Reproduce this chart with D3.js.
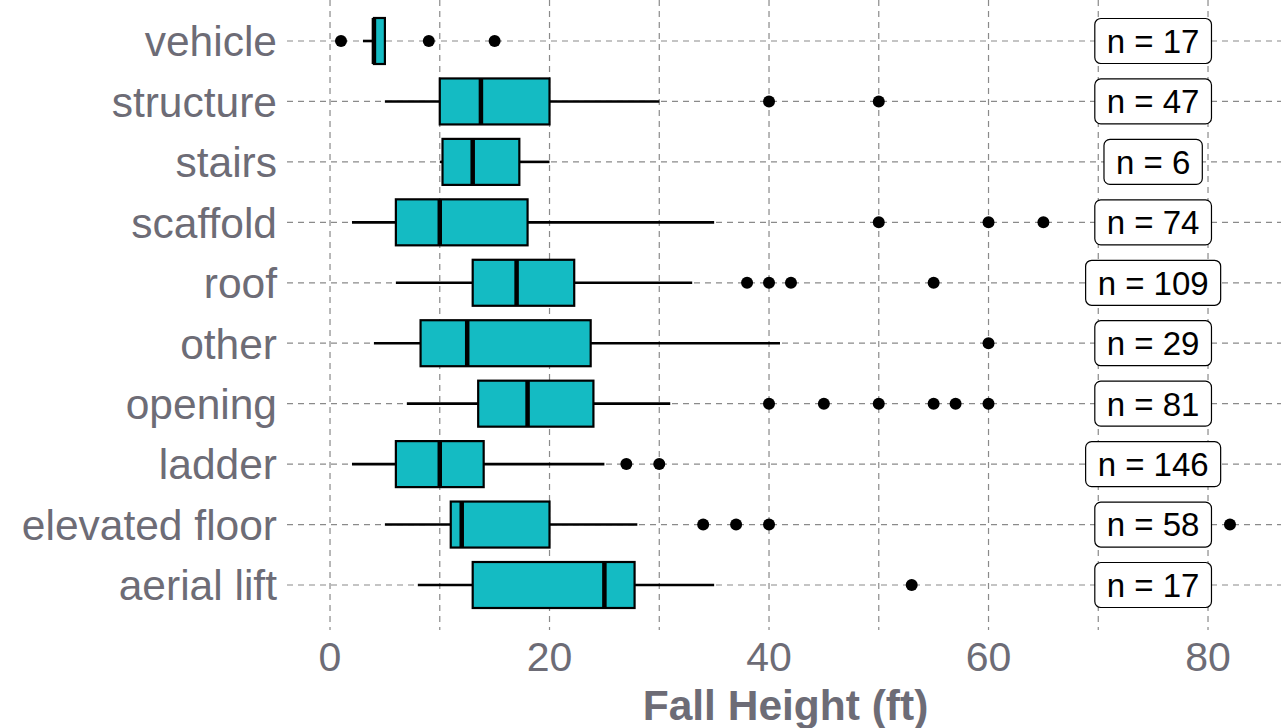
<!DOCTYPE html>
<html><head><meta charset="utf-8">
<script src="https://cdn.jsdelivr.net/npm/d3@7"></script>
<style>html,body{margin:0;padding:0;background:#fff;}svg{display:block;}</style>
</head><body>
<svg id="chart" width="1281" height="728"></svg>
<script>
// categories top to bottom
const categories = ["vehicle","structure","stairs","scaffold","roof","other","opening","ladder","elevated floor","aerial lift"];
// five-number summaries (whisker low, Q1, median, Q3, whisker high), ft
const whiskerLow = [3, 5, 10, 2, 6, 4, 7, 2, 5, 8];
const q1         = [4, 10, 10.25, 6, 13, 8.25, 13.5, 6, 11, 13];
const medians    = [4, 13.75, 13, 10, 17, 12.5, 18, 10, 12, 25];
const q3         = [5, 20, 17.25, 18, 22.25, 23.75, 24, 14, 20, 27.75];
const whiskerHigh= [5, 30, 20, 35, 33, 41, 31, 25, 28, 35];
const outliers   = [[1, 9, 15],[40, 50],[],[50, 60, 65],[38, 40, 42, 55],[60],[40, 45, 50, 55, 57, 60],[27, 30],[34, 37, 40, 82],[53]];
const counts     = [17, 47, 6, 74, 109, 29, 81, 146, 58, 17];
const labelX = 75;
const xTicks = [0, 20, 40, 60, 80];
const xGrid = [0, 10, 20, 30, 40, 50, 60, 70, 80];

const svg = d3.select("#chart");
const x = d3.scaleLinear().domain([-3.92, 86.65]).range([287, 1281]);
const y = d3.scalePoint().domain(categories).range([41, 585]);
const boxH = 46;
const gray = "#6d6c76";
const fill = "#14bbc3";
const font = "Liberation Sans, Arial, sans-serif";

const rows = categories.map((c, i) => ({
  cat: c, lo: whiskerLow[i], q1: q1[i], med: medians[i], q3: q3[i], hi: whiskerHigh[i],
  out: outliers[i], n: counts[i]
}));

// grid
const grid = svg.append("g");
grid.selectAll("line.v").data(xGrid).join("line")
  .attr("x1", d => x(d)).attr("x2", d => x(d)).attr("y1", 0).attr("y2", 630)
  .attr("stroke", "#8a8a8a").attr("stroke-width", 1.2).attr("stroke-dasharray", "6,5");
grid.selectAll("line.h").data(categories).join("line")
  .attr("x1", 287).attr("x2", 1281).attr("y1", d => y(d)).attr("y2", d => y(d))
  .attr("stroke", "#8a8a8a").attr("stroke-width", 1.2).attr("stroke-dasharray", "6,5");

// whiskers
const g = svg.append("g");
g.selectAll("line.wl").data(rows).join("line")
  .attr("x1", d => x(d.lo)).attr("x2", d => x(d.q1)).attr("y1", d => y(d.cat)).attr("y2", d => y(d.cat))
  .attr("stroke", "#000").attr("stroke-width", 2.6);
g.selectAll("line.wh").data(rows).join("line")
  .attr("x1", d => x(d.q3)).attr("x2", d => x(d.hi)).attr("y1", d => y(d.cat)).attr("y2", d => y(d.cat))
  .attr("stroke", "#000").attr("stroke-width", 2.6);
// boxes
g.selectAll("rect.box").data(rows).join("rect")
  .attr("x", d => x(d.q1)).attr("width", d => x(d.q3) - x(d.q1))
  .attr("y", d => y(d.cat) - boxH / 2).attr("height", boxH)
  .attr("fill", fill).attr("stroke", "#000").attr("stroke-width", 2.2);
// medians
g.selectAll("line.med").data(rows).join("line")
  .attr("x1", d => x(d.med)).attr("x2", d => x(d.med))
  .attr("y1", d => y(d.cat) - boxH / 2).attr("y2", d => y(d.cat) + boxH / 2)
  .attr("stroke", "#000").attr("stroke-width", 4.5);
// outliers
const pts = rows.flatMap(d => d.out.map(v => ({cat: d.cat, v})));
g.selectAll("circle").data(pts).join("circle")
  .attr("cx", d => x(d.v)).attr("cy", d => y(d.cat)).attr("r", 6).attr("fill", "#000");

// n labels
const lab = svg.append("g").selectAll("g").data(rows).join("g");
lab.append("rect").attr("fill", "#fff").attr("stroke", "#000").attr("stroke-width", 1.2).attr("rx", 6);
lab.append("text").attr("x", x(labelX)).attr("y", d => y(d.cat))
  .attr("text-anchor", "middle").attr("dy", "0.36em")
  .attr("font-family", font).attr("font-size", 33).attr("fill", "#000")
  .text(d => "n = " + d.n);
lab.each(function(d) {
  const t = d3.select(this).select("text").node().getBBox();
  d3.select(this).select("rect")
    .attr("x", t.x - 12).attr("width", t.width + 24)
    .attr("y", y(d.cat) - 22.5).attr("height", 45);
});

// y labels
svg.append("g").selectAll("text").data(categories).join("text")
  .attr("x", 277).attr("y", d => y(d)).attr("dy", "0.36em").attr("text-anchor", "end")
  .attr("font-family", font).attr("font-size", 42.5).attr("fill", gray)
  .text(d => d);

// x tick labels
svg.append("g").selectAll("text").data(xTicks).join("text")
  .attr("x", d => x(d)).attr("y", 671).attr("text-anchor", "middle")
  .attr("font-family", font).attr("font-size", 41).attr("fill", gray)
  .text(d => d);

// x title
svg.append("text").attr("x", 785.5).attr("y", 720).attr("text-anchor", "middle")
  .attr("font-family", font).attr("font-size", 42.5).attr("font-weight", "bold")
  .attr("fill", gray).text("Fall Height (ft)");
</script>
</body></html>
